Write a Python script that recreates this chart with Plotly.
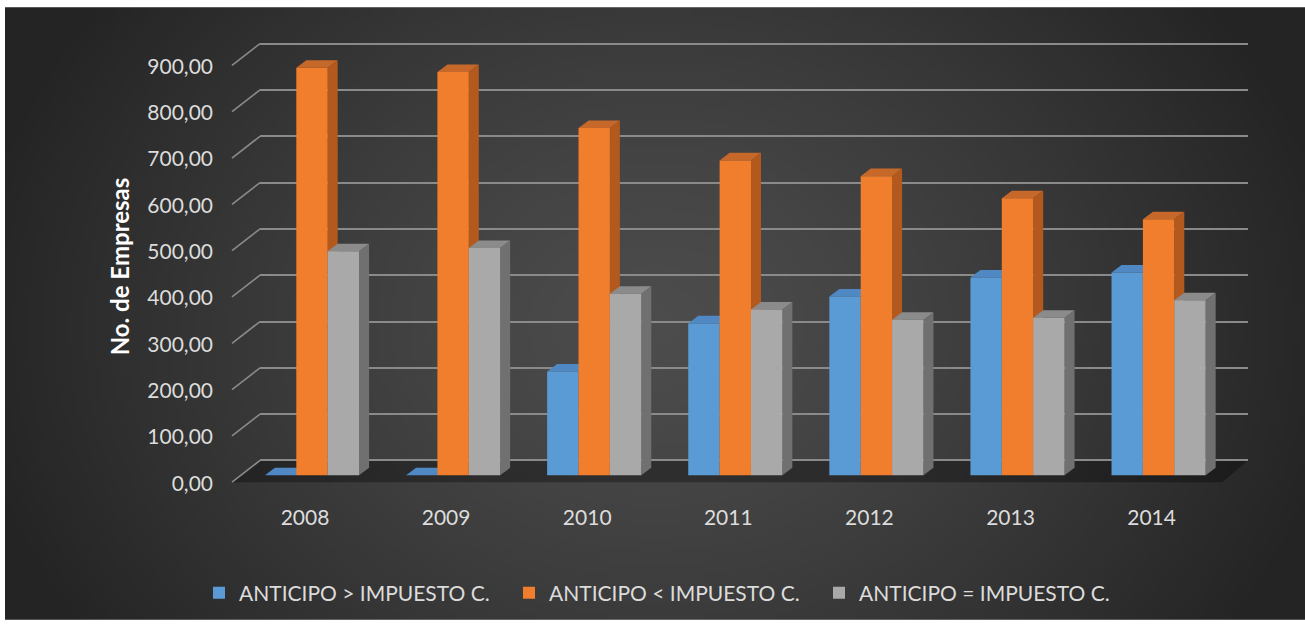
import base64, struct, zlib
import plotly.graph_objects as go

# ---------------- data ----------------
years = ["2008", "2009", "2010", "2011", "2012", "2013", "2014"]
anticipo_mayor = [0, 0, 224, 328, 386, 427, 438]      # ANTICIPO > IMPUESTO C.
anticipo_menor = [880, 871, 750, 680, 646, 598, 553]  # ANTICIPO < IMPUESTO C.
anticipo_igual = [484, 491, 392, 358, 336, 340, 378]  # ANTICIPO = IMPUESTO C.
series_names = ["ANTICIPO > IMPUESTO C.", "ANTICIPO < IMPUESTO C.", "ANTICIPO = IMPUESTO C."]
y_ticks = [0, 100, 200, 300, 400, 500, 600, 700, 800, 900]

# ---------------- geometry (pixels) ----------------
WIDTH, HEIGHT = 1305, 626
L, R, T, B = 222, 1290, 30, 508
W, H = R - L, B - T
CAT_PX = 141.1          # pixels per category
FIRST_PX = 312          # pixel of first category centre
PX_PER_UNIT = 0.468     # vertical pixels per value unit
BAR_ZERO_PX = 480       # front face floor
WALL_ZERO_PX = 465      # back wall floor
FRONT_ZERO_PX = 487     # floor front edge
WALL_LEFT_PX, WALL_RIGHT_PX = 260, 1248
DEPTH_DX_PX, DEPTH_DY_PX = 10, 7.6

x2_lo = -(FIRST_PX - L) / CAT_PX
x2_hi = x2_lo + W / CAT_PX
y2_lo = -(B - BAR_ZERO_PX) / PX_PER_UNIT
y2_hi = (BAR_ZERO_PX - T) / PX_PER_UNIT
y_lo = -(B - WALL_ZERO_PX) / PX_PER_UNIT
y_hi = (WALL_ZERO_PX - T) / PX_PER_UNIT

def px2paper_x(px):
    return (px - L) / W

def px2paper_y(py):
    return (B - py) / H

# ---------------- background gradient image ----------------
def make_png(w, h, rows):
    raw = b"".join(b"\x00" + bytes(r) for r in rows)
    def chunk(tag, data):
        c = struct.pack(">I", len(data)) + tag + data
        return c + struct.pack(">I", zlib.crc32(tag + data) & 0xFFFFFFFF)
    return (b"\x89PNG\r\n\x1a\n" + chunk(b"IHDR", struct.pack(">IIBBBBB", w, h, 8, 2, 0, 0, 0))
            + chunk(b"IDAT", zlib.compress(raw, 9)) + chunk(b"IEND", b""))

bg_x0, bg_y0 = 5, 7
bg_w, bg_h = WIDTH - bg_x0, HEIGHT - bg_y0
gw, gh = 260, 124
rows = []
for j in range(gh):
    row = []
    py = bg_y0 + (j + 0.5) * bg_h / gh
    for i in range(gw):
        px = bg_x0 + (i + 0.5) * bg_w / gw
        t = (((px - 655) / 690) ** 2 + ((py - 330) / 560) ** 2) ** 0.5
        t = min(t, 1.0) ** 1.3
        v = int(round(0x4c + (0x24 - 0x4c) * t))
        row += [v, v, v]
    rows.append(row)
bg_uri = "data:image/png;base64," + base64.b64encode(make_png(gw, gh, rows)).decode()

# ---------------- figure ----------------
front_colors = ["#5b9bd5", "#f07e2c", "#a9a9a9"]
side_colors = ["#41729f", "#b3591e", "#707070"]
top_colors = ["#4f88c2", "#c5682a", "#8b8b8b"]
series = [anticipo_mayor, anticipo_menor, anticipo_igual]

fig = go.Figure()
# invisible trace to create the back-wall grid subplot
fig.add_trace(go.Scatter(x=[None], y=[None], xaxis="x", yaxis="y", showlegend=False, hoverinfo="skip"))

BARGAP = 0.333
bar_w = (1 - BARGAP) / 3
xs = list(range(len(years)))
for k, (name, vals) in enumerate(zip(series_names, series)):
    fig.add_trace(go.Bar(
        x=xs, y=vals, name=name, xaxis="x2", yaxis="y2",
        marker=dict(color=front_colors[k], line=dict(width=0)),
    ))

dx = DEPTH_DX_PX / CAT_PX
dy = DEPTH_DY_PX / PX_PER_UNIT
shapes = []
# floor
fl = [(232, FRONT_ZERO_PX), (1222, FRONT_ZERO_PX), (1248, WALL_ZERO_PX), (260, WALL_ZERO_PX)]
shapes.append(dict(type="path", xref="paper", yref="paper", layer="below",
                   path="M " + " L ".join(f"{px2paper_x(a)},{px2paper_y(b)}" for a, b in fl) + " Z",
                   fillcolor="rgba(0,0,0,0.32)", line=dict(width=0)))
# diagonal leaders from labels to back wall
for v in y_ticks:
    shapes.append(dict(type="line", xref="paper", yref="paper", layer="below",
                       x0=px2paper_x(232), y0=px2paper_y(FRONT_ZERO_PX - v * PX_PER_UNIT),
                       x1=px2paper_x(WALL_LEFT_PX), y1=px2paper_y(WALL_ZERO_PX - v * PX_PER_UNIT),
                       line=dict(color="#8a8a8a", width=1.6)))
# 3D faces of the bars
for i in xs:
    for k, vals in enumerate(series):
        v = vals[i]
        xl = i + (k - 1) * bar_w - bar_w / 2
        xr = xl + bar_w
        top = f"M {xl},{v} L {xl+dx},{v+dy} L {xr+dx},{v+dy} L {xr},{v} Z"
        side = f"M {xr},{0} L {xr+dx},{dy} L {xr+dx},{v+dy} L {xr},{v} Z"
        shapes.append(dict(type="path", xref="x2", yref="y2", layer="below", path=side,
                           fillcolor=side_colors[k], line=dict(width=0)))
        shapes.append(dict(type="path", xref="x2", yref="y2", layer="below", path=top,
                           fillcolor=top_colors[k], line=dict(width=0)))

FONT = "Lato, 'Open Sans', sans-serif"
fig.update_layout(
    width=WIDTH, height=HEIGHT,
    margin=dict(l=L, r=WIDTH - R, t=T, b=HEIGHT - B, pad=0),
    paper_bgcolor="white", plot_bgcolor="rgba(0,0,0,0)",
    separators=",.",
    barmode="group", bargap=BARGAP, bargroupgap=0,
    font=dict(family=FONT, color="#d9d9d9", size=21),
    images=[dict(source=bg_uri, xref="paper", yref="paper",
                 x=px2paper_x(bg_x0), y=px2paper_y(bg_y0),
                 sizex=bg_w / W, sizey=bg_h / H, sizing="stretch",
                 xanchor="left", yanchor="top", layer="below")],
    shapes=shapes,
    xaxis=dict(domain=[px2paper_x(WALL_LEFT_PX), px2paper_x(WALL_RIGHT_PX)], range=[0, 1],
               showgrid=False, zeroline=False, showticklabels=False, showline=False, anchor="y"),
    yaxis=dict(range=[y_lo, y_hi], tickvals=y_ticks, showgrid=True, gridcolor="#8a8a8a", gridwidth=1.6,
               zeroline=False, showticklabels=False, showline=False, anchor="x"),
    xaxis2=dict(domain=[0, 1], range=[x2_lo, x2_hi], anchor="y2",
                tickvals=xs, ticktext=years, showgrid=False, zeroline=False, showline=False,
                ticks="", ticklabelshift=-7, tickfont=dict(size=21, color="#dcdcdc")),
    yaxis2=dict(range=[y2_lo, y2_hi], anchor="x2", tickvals=y_ticks, tickformat=".2f",
                showgrid=False, zeroline=False, showline=False, ticks="",
                ticklabelshift=8, ticklabelstandoff=8,
                tickfont=dict(size=21, color="#dcdcdc"),
                title=dict(text="<b>No. de Empresas</b>", font=dict(size=24, color="white"), standoff=10)),
    legend=dict(orientation="h", x=px2paper_x(664), xanchor="center",
                y=px2paper_y(599), yanchor="middle",
                font=dict(size=21, color="#dcdcdc"), bgcolor="rgba(0,0,0,0)",
                entrywidth=265, entrywidthmode="pixels", itemclick=False),
    showlegend=True,
)

fig.write_html("out.html")
